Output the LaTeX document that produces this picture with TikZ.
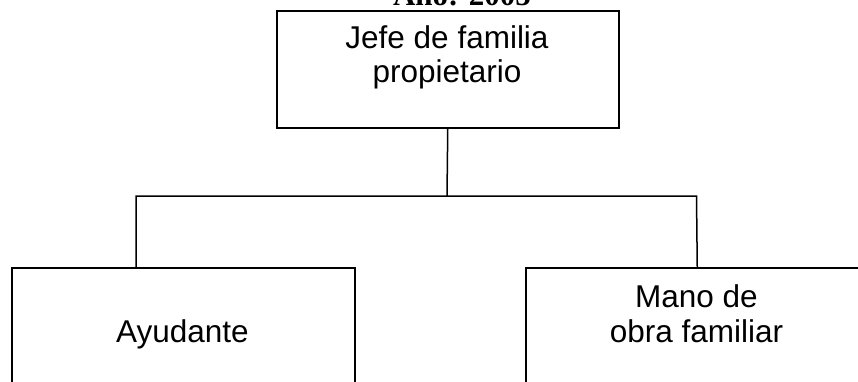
\documentclass[tikz,border=0pt]{standalone}
\usepackage{fontspec}
\setmainfont{Liberation Sans}
\newfontfamily\titlefont{Liberation Serif}
\begin{document}
\begin{tikzpicture}[x=1pt,y=-1pt,
  boxline/.style={draw=black,line width=1.5pt},
  conn/.style={draw=black,line width=1.5pt},
  lbl/.style={font=\fontsize{31.5}{34.5}\selectfont,align=center,inner sep=0pt,anchor=base},
  ttl/.style={font=\titlefont\bfseries\fontsize{31}{34.5}\selectfont,inner sep=0pt,anchor=base}]
\useasboundingbox (0,0) rectangle (858,381);
\clip (0,0) rectangle (858,381);
% boxes
\node[boxline,rectangle,minimum width=342pt,minimum height=117pt,inner sep=0pt,anchor=north west] (top) at (276,10) {};
\node[boxline,rectangle,minimum width=343pt,minimum height=140pt,inner sep=0pt,anchor=north west] (left) at (11,267) {};
\node[boxline,rectangle,minimum width=343pt,minimum height=140pt,inner sep=0pt,anchor=north west] (right) at (525,267) {};
% labels
\node[ttl] (title) at (462,5) {Año: 2005};
\node[lbl] (toplbl) at (447,82.5) {Jefe de familia\\propietario};
\node[lbl] (leftlbl) at (182.5,342) {Ayudante};
\node[lbl] (rightlbl) at (696.5,342) {Mano de\\obra familiar};
% connectors
\coordinate (mid) at (447,196);
\coordinate (lj) at (136,196);
\coordinate (rj) at (696.5,196);
\draw[conn] (top.south) -- (mid);
\draw[conn,line join=miter] (lj |- left.north) -- (lj) -- (rj) -- (right.north);
\end{tikzpicture}
\end{document}
